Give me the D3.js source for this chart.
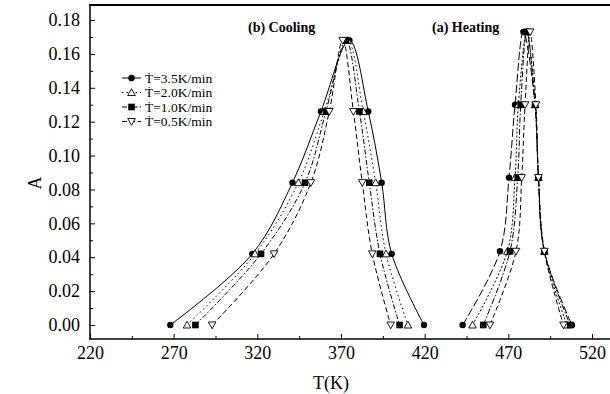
<!DOCTYPE html>
<html><head><meta charset="utf-8">
<script src="https://cdn.jsdelivr.net/npm/d3@7"></script>
<style>body{margin:0;background:#fff}svg{display:block}text{font-family:"Liberation Serif","Times New Roman",serif;fill:#000}</style>
</head><body><div id="c"></div>
<script>
const rates = ["3.5","2.0","1.0","0.5"];
const legendLabels = ["T\u0307=3.5K/min","T\u0307=2.0K/min","T\u0307=1.0K/min","T\u0307=0.5K/min"];
const xTicks = [220,270,320,370,420,470,520];
const yTicks = [0,0.02,0.04,0.06,0.08,0.10,0.12,0.14,0.16,0.18];

const coolA = [0,0.042,0.084,0.126,0.168,0.126,0.084,0.042,0];
const cool35 = [268,317,341,358,375,386.3,394.3,400.3,419.6];
const cool20 = [278,318.6,344.5,360,374,383.3,390.7,396.9,410];
const cool10 = [283,322.2,348.5,361,373,381,386.9,393.3,405];
const cool05 = [293,330,352,363,371,377.4,382.7,388.7,399.7];

const heatA = [0,0.0435,0.087,0.13,0.173,0.13,0.087,0.0435,0];
const heat35 = [442.7,465,470.4,474,479,486,488,491.5,508];
const heat20 = [448.6,469.4,474,476,481,486,488,491.5,505];
const heat10 = [455,471,475.6,477.4,481,486,488,491.5,507];
const heat05 = [459,474.6,478,480,483,486.5,488,491.5,503];

const W=610,H=394;
const x=d3.scaleLinear().domain([220,520]).range([90,592]);
const y=d3.scaleLinear().domain([0,0.18]).range([325,20]);
const svg=d3.select("#c").append("svg").attr("width",W).attr("height",H);

const coolDash=[null,"1.5,3","5,2,1.5,2","5,3"];
const heatDash=["8,3","2,2","6,2,1.5,2","5,3"];
const symbols=["circle","tri","square","down"];

function marker(g,sym,cx,cy){
  if(sym==="circle") g.append("circle").attr("cx",cx).attr("cy",cy).attr("r",3.2).attr("fill","#000");
  else if(sym==="square") g.append("rect").attr("x",cx-3.3).attr("y",cy-3.3).attr("width",6.6).attr("height",6.6).attr("fill","#000");
  else if(sym==="tri") g.append("path").attr("d",`M${cx},${cy-3.8}L${cx+3.8},${cy+3}L${cx-3.8},${cy+3}Z`).attr("fill","#fff").attr("stroke","#000").attr("stroke-width",0.9);
  else g.append("path").attr("d",`M${cx},${cy+3.8}L${cx+3.8},${cy-3}L${cx-3.8},${cy-3}Z`).attr("fill","#fff").attr("stroke","#000").attr("stroke-width",0.9);
}

const line=d3.line().x(d=>x(d[0])).y(d=>y(d[1])).curve(d3.curveCatmullRom.alpha(0.5));
const coolSets=[cool35,cool20,cool10,cool05];
const heatSets=[heat35,heat20,heat10,heat05];
const gl=svg.append("g");
coolSets.forEach((T,i)=>{
  const pts=T.map((t,j)=>[t,coolA[j]]);
  gl.append("path").attr("d",line(pts)).attr("fill","none").attr("stroke","#000").attr("stroke-width",1).attr("stroke-dasharray",coolDash[i]);
});
heatSets.forEach((T,i)=>{
  const pts=T.map((t,j)=>[t,heatA[j]]);
  gl.append("path").attr("d",line(pts)).attr("fill","none").attr("stroke","#000").attr("stroke-width",1).attr("stroke-dasharray",heatDash[i]);
});
const gm=svg.append("g");
coolSets.forEach((T,i)=>T.forEach((t,j)=>marker(gm,symbols[i],x(t),y(coolA[j]))));
heatSets.forEach((T,i)=>T.forEach((t,j)=>marker(gm,symbols[i],x(t),y(heatA[j]))));

// frame
svg.append("line").attr("x1",90).attr("x2",90).attr("y1",5).attr("y2",339).attr("stroke","#000").attr("stroke-width",1.5);
svg.append("line").attr("x1",89).attr("x2",610).attr("y1",339).attr("y2",339).attr("stroke","#000").attr("stroke-width",1.5);
svg.append("line").attr("x1",89).attr("x2",610).attr("y1",5).attr("y2",5).attr("stroke","#000").attr("stroke-width",2);

// axes
const xAx=svg.append("g").attr("transform","translate(0,339)")
  .call(d3.axisBottom(x).tickValues(xTicks).tickSize(-5).tickPadding(7).tickFormat(d3.format("d")));
xAx.select(".domain").remove();
xAx.selectAll("text").style("font-size","18px");
const xMinor=svg.append("g").attr("transform","translate(0,339)")
  .call(d3.axisBottom(x).tickValues(d3.range(245,530,50)).tickSize(-3).tickFormat(""));
xMinor.select(".domain").remove();
const yAx=svg.append("g").attr("transform","translate(90,0)")
  .call(d3.axisLeft(y).tickValues(yTicks).tickSize(-5).tickPadding(10).tickFormat(d3.format(".2f")));
yAx.select(".domain").remove();
yAx.selectAll("text").style("font-size","18px");
const yMinor=svg.append("g").attr("transform","translate(90,0)")
  .call(d3.axisLeft(y).tickValues(d3.range(0.01,0.19,0.02)).tickSize(-3).tickFormat(""));
yMinor.select(".domain").remove();

svg.append("text").attr("x",331).attr("y",389).attr("text-anchor","middle").style("font-size","18px").text("T(K)");
svg.append("text").attr("transform","translate(41,183) rotate(-90)").attr("text-anchor","middle").style("font-size","18px").text("A");

svg.append("text").attr("x",248).attr("y",32).style("font-size","14px").style("font-weight","bold").text("(b) Cooling");
svg.append("text").attr("x",432).attr("y",32).style("font-size","14px").style("font-weight","bold").text("(a) Heating");

// legend
const lg=svg.append("g");
legendLabels.forEach((lab,i)=>{
  const ly=78+i*14.5;
  lg.append("line").attr("x1",122).attr("x2",141).attr("y1",ly).attr("y2",ly).attr("stroke","#000").attr("stroke-width",1).attr("stroke-dasharray",coolDash[i]);
  marker(lg,symbols[i],131.5,ly);
  lg.append("text").attr("x",145).attr("y",ly+4.5).style("font-size","13.5px").text(lab);
});
</script></body></html>
